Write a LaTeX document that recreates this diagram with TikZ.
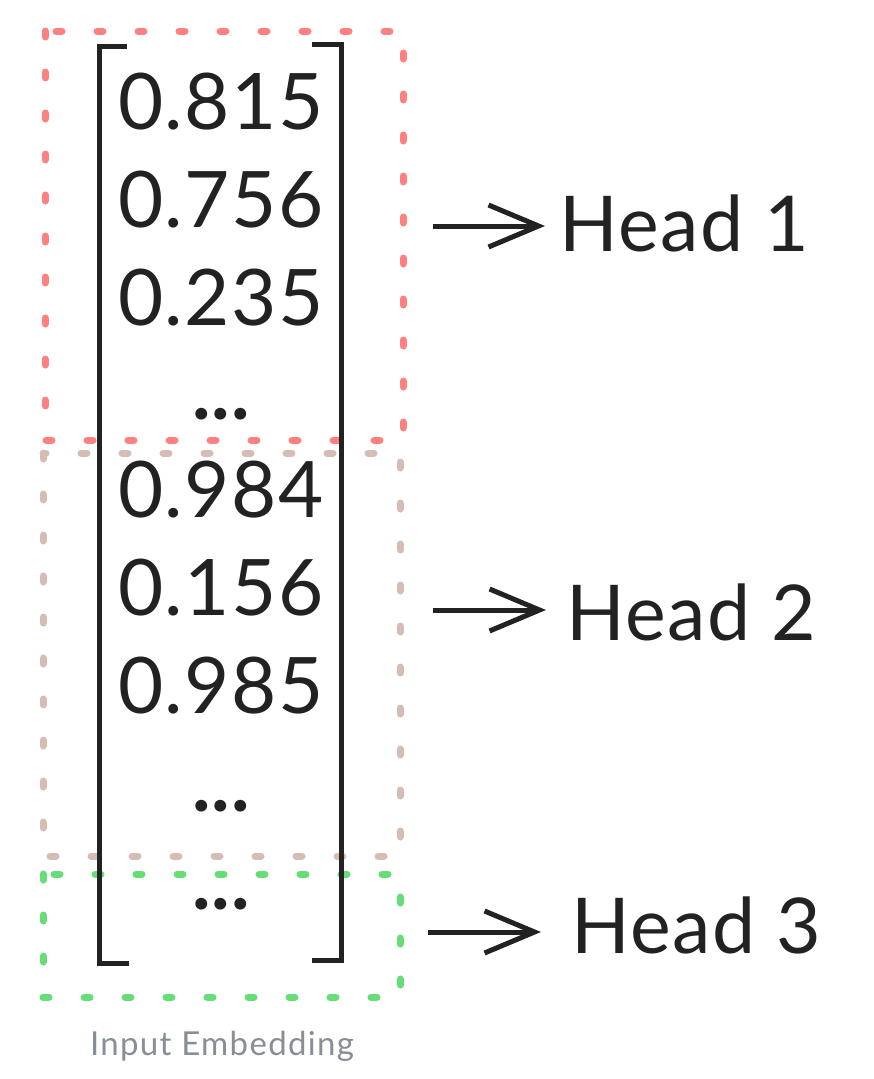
\documentclass[tikz,border=0pt]{standalone}
\usepackage{fontspec}
\setmainfont{Lato}
\usetikzlibrary{arrows.meta}
\definecolor{headred}{HTML}{FF8080}
\definecolor{headtan}{HTML}{D6BDB4}
\definecolor{headgreen}{HTML}{66DD77}
\definecolor{captiongray}{HTML}{878E97}
\definecolor{inkblack}{HTML}{222222}
\newcommand{\rowdots}{{\bfseries.\kern1pt.\kern1pt.}}
\tikzset{
  headbox/.style={line width=7pt, line cap=round, dash pattern=on 6pt off 35pt},
  entry/.style={inner sep=0pt, text=inkblack, font=\fontsize{78}{80}\selectfont\addfontfeatures{LetterSpace=2}},
  headlabel/.style={inner sep=0pt, anchor=west, text=inkblack, font=\fontsize{77}{80}\selectfont\addfontfeatures{LetterSpace=2}},
  tohead/.style={line width=5pt, inkblack, -{Straight Barb[length=50pt, width=42pt, line width=5pt]}},
}
\begin{document}
\begin{tikzpicture}[x=1pt, y=-1pt]
  \useasboundingbox (0,0) rectangle (873,1079);
  % dashed boxes
  \draw[headbox, headred] (45,31) rectangle (403,440);
  \draw[headbox, headtan] (43,453) rectangle (400,856);
  \draw[headbox, headgreen] (43,874) rectangle (400,997);
  % brackets
  \draw[line width=5pt, inkblack] (127,46) -- (99,46) -- (99,963) -- (129,963);
  \draw[line width=5pt, inkblack] (312,44) -- (341,44) -- (341,960) -- (312,960);
  % entries
  \foreach \val/\y/\nm in {0.815/102/e1, 0.756/200/e2, 0.235/298/e3, \rowdots/414/d1,
                           0.984/490/e4, 0.156/588/e5, 0.985/686/e6, \rowdots/806/d2, \rowdots/904/d3}
    \node[entry] (\nm) at (221,\y) {\val};
  % heads
  \node[headlabel] (h1) at (559,223) {Head 1};
  \node[headlabel] (h2) at (566,612) {Head 2};
  \node[headlabel] (h3) at (571,925) {Head 3};
  \coordinate (s1) at (433,226);
  \coordinate (s2) at (433,610);
  \coordinate (s3) at (428,932);
  \draw[tohead] (s1) -- ([xshift=-14pt]h1.west |- s1);
  \draw[tohead] (s2) -- ([xshift=-20pt]h2.west |- s2);
  \draw[tohead] (s3) -- ([xshift=-30pt]h3.west |- s3);
  \node[text=captiongray, font=\fontsize{33}{35}\selectfont\addfontfeatures{LetterSpace=4}] (cap) at (222,1046) {Input Embedding};
\end{tikzpicture}
\end{document}
